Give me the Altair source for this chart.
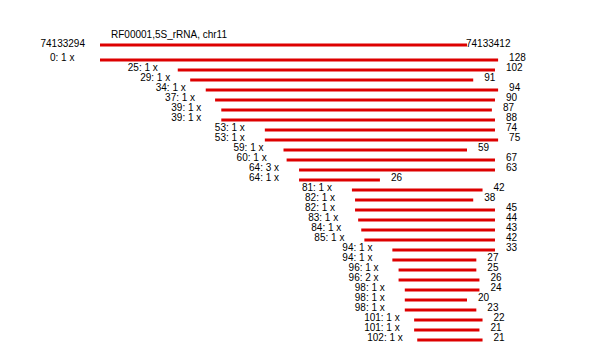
import altair as alt
import pandas as pd

ref_title = "RF00001,5S_rRNA, chr11"
ref_start_label = "74133294"
ref_end_label = "74133412"
ref_length = 118

starts = [0, 25, 29, 34, 37, 39, 39, 53, 53, 59, 60, 64, 64, 81, 82, 82, 83, 84, 85,
          94, 94, 96, 96, 98, 98, 98, 101, 101, 102]
lengths = [128, 102, 91, 94, 90, 87, 88, 74, 75, 59, 67, 63, 26, 42, 38, 45, 44, 43, 42,
           33, 27, 25, 26, 24, 20, 23, 22, 21, 21]
counts = [1, 1, 1, 1, 1, 1, 1, 1, 1, 1, 1, 3, 1, 1, 1, 1, 1, 1, 1,
          1, 1, 1, 2, 1, 1, 1, 1, 1, 1]

RED = "#dd0000"
FONT = "Liberation Sans"

reads = pd.DataFrame({
    "row": list(range(len(starts))),
    "start": starts,
    "end": [s + l for s, l in zip(starts, lengths)],
    "length": [str(l) for l in lengths],
    "label": [f"{s}: {c} x" for s, c in zip(starts, counts)],
})

REF_ROW = -1.5
ref = pd.DataFrame({
    "row": [REF_ROW],
    "start": [0],
    "end": [ref_length],
    "title": [ref_title],
    "slabel": [ref_start_label],
    "elabel": [ref_end_label],
})

xs = alt.Scale(domain=[0, ref_length], range=[92, 459])
ys = alt.Scale(domain=[0, len(starts) - 1], range=[52, 332])

X = lambda f: alt.X(f, type="quantitative", scale=xs, axis=None)
Y = alt.Y("row:Q", scale=ys, axis=None)

ref_bar = alt.Chart(ref).mark_rule(color=RED, strokeWidth=3).encode(
    x=X("start"), x2="end", y=Y)
ref_title_t = alt.Chart(ref).mark_text(align="left", baseline="middle", dx=11, dy=-10,
                                       font=FONT, fontSize=10, color="black").encode(
    x=X("start"), y=Y, text="title:N")
ref_sl = alt.Chart(ref).mark_text(align="right", baseline="middle", dx=-15, dy=-1,
                                  font=FONT, fontSize=10, color="black").encode(
    x=X("start"), y=Y, text="slabel:N")
ref_el = alt.Chart(ref).mark_text(align="left", baseline="middle", dx=-1, dy=-1,
                                  font=FONT, fontSize=10, color="black").encode(
    x=X("end"), y=Y, text="elabel:N")

bars = alt.Chart(reads).mark_rule(color=RED, strokeWidth=3).encode(
    x=X("start"), x2="end", y=Y)
left = alt.Chart(reads).mark_text(align="left", baseline="middle", dx=-50, dy=-2,
                                  font=FONT, fontSize=10, color="black").encode(
    x=X("start"), y=Y, text="label:N")
right = alt.Chart(reads).mark_text(align="left", baseline="middle", dx=11, dy=-2,
                                   font=FONT, fontSize=10, color="black").encode(
    x=X("end"), y=Y, text="length:N")

chart = alt.layer(ref_bar, ref_title_t, ref_sl, ref_el, bars, left, right).properties(
    width=574, height=344, autosize=alt.AutoSizeParams(type="none"), padding=0,
    background="white"
).configure_view(stroke=None)

chart.save("out.html", embed_options={"renderer": "svg", "actions": False})
